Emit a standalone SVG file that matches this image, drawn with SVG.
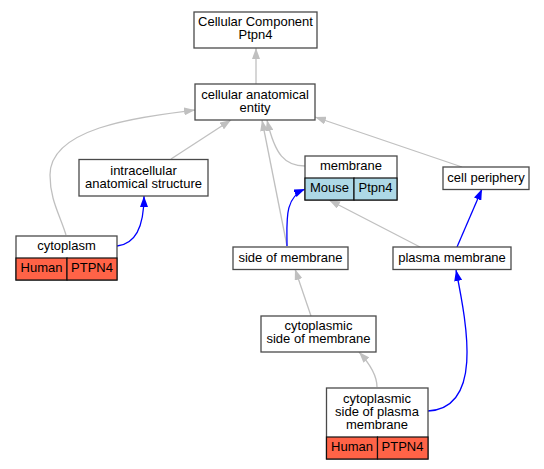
<svg xmlns="http://www.w3.org/2000/svg" width="544" height="469" viewBox="0 0 544 469">
<style>
text{font-family:"Liberation Sans",Arial,sans-serif;font-size:13px;text-anchor:middle;fill:#000}
.box{fill:#fff;stroke:#4a4a4a;stroke-width:1.3}
.h{fill:#ff6347;stroke:#111;stroke-width:1.2}
.m{fill:#add8e6;stroke:#111;stroke-width:1.2}
.g{fill:none;stroke:#c0c0c0;stroke-width:1.3}
.b{fill:none;stroke:#0000ff;stroke-width:1.3}
</style>
<defs>
<marker id="ag" markerUnits="userSpaceOnUse" markerWidth="11" markerHeight="8" refX="11" refY="4" orient="auto"><path d="M0,0 L11,4 L0,8 z" fill="#c0c0c0"/></marker>
<marker id="ab" markerUnits="userSpaceOnUse" markerWidth="11" markerHeight="8" refX="11" refY="4" orient="auto"><path d="M0,0 L11,4 L0,8 z" fill="#0000ff"/></marker>
</defs>
<g id="edges">
<path class="g" marker-end="url(#ag)" d="M256,84 L256,48"/>
<path class="g" marker-end="url(#ag)" d="M171,159 L231,120"/>
<path class="g" marker-end="url(#ag)" d="M66,235 C60,215 50,200 50,175 C50,125 150,116 195,110"/>
<path class="b" marker-end="url(#ab)" d="M117,246 C137,244 144,225 144,196"/>
<path class="g" marker-end="url(#ag)" d="M287,246 L262,120"/>
<path class="g" marker-end="url(#ag)" d="M305,166 C285,166 275,155 267,120"/>
<path class="b" marker-end="url(#ab)" d="M287,246 C287,220 284,198 305,189"/>
<path class="g" marker-end="url(#ag)" d="M462,167 L315,117"/>
<path class="g" marker-end="url(#ag)" d="M420,247 L329,200"/>
<path class="b" marker-end="url(#ab)" d="M457,247 L482,189"/>
<path class="g" marker-end="url(#ag)" d="M311,316 L295,269"/>
<path class="g" marker-end="url(#ag)" d="M377,387 C377,375 370,364 359,352"/>
<path class="b" marker-end="url(#ab)" d="M428,411 C482,408 468,330 456,270"/>
</g>
<g id="cc">
<rect class="box" x="194" y="12" width="123" height="36"/>
<text x="255.5" y="26">Cellular Component</text>
<text x="255.5" y="39">Ptpn4</text>
</g>
<g id="cae">
<rect class="box" x="195" y="84" width="120" height="36"/>
<text x="255" y="98.5">cellular anatomical</text>
<text x="255" y="111.5">entity</text>
</g>
<g id="ias">
<rect class="box" x="79" y="159.5" width="129" height="36.5"/>
<text x="143.5" y="174.5">intracellular</text>
<text x="143.5" y="187.5">anatomical structure</text>
</g>
<g id="cytoplasm">
<rect class="box" x="16" y="236" width="101" height="44"/>
<rect class="h" x="16" y="258" width="51" height="22"/>
<rect class="h" x="67" y="258" width="50" height="22"/>
<text x="66.5" y="250">cytoplasm</text>
<text x="41.5" y="272">Human</text>
<text x="92" y="272">PTPN4</text>
</g>
<g id="membrane">
<rect class="box" x="305" y="156" width="92" height="44"/>
<rect class="m" x="305" y="178" width="49" height="22"/>
<rect class="m" x="354" y="178" width="43" height="22"/>
<text x="351" y="170">membrane</text>
<text x="329.5" y="192">Mouse</text>
<text x="375.5" y="192">Ptpn4</text>
</g>
<g id="cellperiphery">
<rect class="box" x="443" y="167" width="86" height="22.5"/>
<text x="486" y="181.5">cell periphery</text>
</g>
<g id="som">
<rect class="box" x="233" y="247" width="115" height="22.5"/>
<text x="290.5" y="261.5">side of membrane</text>
</g>
<g id="pm">
<rect class="box" x="393" y="247" width="118" height="22.5"/>
<text x="452" y="261.5">plasma membrane</text>
</g>
<g id="csm">
<rect class="box" x="261" y="316" width="115" height="36"/>
<text x="318.5" y="330">cytoplasmic</text>
<text x="318.5" y="343">side of membrane</text>
</g>
<g id="cspm">
<rect class="box" x="326.5" y="388" width="101.5" height="71"/>
<rect class="h" x="326.5" y="437" width="51" height="22"/>
<rect class="h" x="377.5" y="437" width="50.5" height="22"/>
<text x="377" y="402.5">cytoplasmic</text>
<text x="377" y="415.5">side of plasma</text>
<text x="377" y="428.5">membrane</text>
<text x="352" y="451">Human</text>
<text x="402.5" y="451">PTPN4</text>
</g>
</svg>
